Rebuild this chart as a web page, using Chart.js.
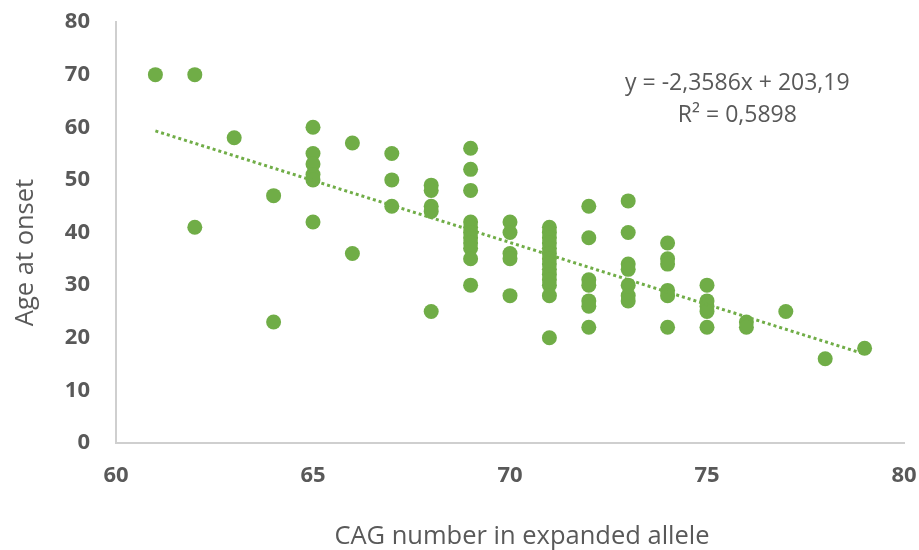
<!DOCTYPE html>
<html>
<head>
<meta charset="utf-8">
<script src="https://cdn.jsdelivr.net/npm/chart.js@4/dist/chart.umd.min.js"></script>
<style>
    html, body { margin: 0; padding: 0; background: #ffffff; }
    #wrap { width: 919px; height: 550px; }
</style>
</head>
<body>
<div id="wrap"><canvas id="cagChart" width="919" height="550"></canvas></div>
<script>
// CAG repeat length (x) and age at onset (y), read column by column
const cagNumbers = [
    61,
    62, 62,
    63,
    64, 64,
    65, 65, 65, 65, 65, 65,
    66, 66,
    67, 67, 67,
    68, 68, 68, 68, 68,
    69, 69, 69, 69, 69, 69, 69, 69, 69, 69, 69,
    70, 70, 70, 70, 70,
    71, 71, 71, 71, 71, 71, 71, 71, 71, 71, 71, 71, 71, 71,
    72, 72, 72, 72, 72, 72, 72,
    73, 73, 73, 73, 73, 73, 73,
    74, 74, 74, 74, 74, 74,
    75, 75, 75, 75, 75,
    76, 76,
    77,
    78,
    79
];
const ageAtOnset = [
    70,
    70, 41,
    58,
    47, 23,
    60, 55, 53, 51, 50, 42,
    57, 36,
    55, 50, 45,
    49, 48, 45, 44, 25,
    56, 52, 48, 42, 41, 40, 39, 38, 37, 35, 30,
    42, 40, 36, 35, 28,
    41, 40, 39, 38, 37, 36, 35, 34, 33, 32, 31, 30, 28, 20,
    45, 39, 31, 30, 27, 26, 22,
    46, 40, 34, 33, 30, 28, 27,
    38, 35, 34, 29, 28, 22,
    30, 27, 26, 25, 22,
    23, 22,
    25,
    16,
    18
];

// linear trendline end points as drawn
const trendX = [61, 79];
const trendY = [59.3, 16.9];
const trendLabel = ['y = -2,3586x + 203,19', 'R\u00B2 = 0,5898'];

const xTicks = [60, 65, 70, 75, 80];
const yTicks = [0, 10, 20, 30, 40, 50, 60, 70, 80];
const xTitle = 'CAG number in expanded allele';
const yTitle = 'Age at onset';

const verde = '#70AD47';
const gris = '#595959';
const fuente = "'Open Sans', 'DejaVu Sans', sans-serif";

// ecuación de la tendencia y títulos de los ejes (Excel los coloca algo descentrados)
const textosPlugin = {
    id: 'textos',
    afterDatasetsDraw(chart) {
        const { ctx, scales, chartArea } = chart;
        const cx = scales.x.getPixelForValue(75.77);
        ctx.save();
        ctx.fillStyle = gris;
        ctx.font = "23px " + fuente;
        ctx.textAlign = 'center';
        ctx.textBaseline = 'middle';
        ctx.fillText(trendLabel[0], cx, scales.y.getPixelForValue(68.4));
        ctx.fillText(trendLabel[1], cx, scales.y.getPixelForValue(62.3));

        ctx.font = "25.5px " + fuente;
        ctx.textBaseline = 'alphabetic';
        ctx.fillText(xTitle, (chartArea.left + chartArea.right) / 2 + 12, chartArea.bottom + 101);

        ctx.translate(33, (chartArea.top + chartArea.bottom) / 2 + 20);
        ctx.rotate(-Math.PI / 2);
        ctx.fillText(yTitle, 0, 0);
        ctx.restore();
    }
};

function inicializarGrafica() {
    const ctx = document.getElementById('cagChart').getContext('2d');
    const puntos = cagNumbers.map((x, i) => ({ x: x, y: ageAtOnset[i] }));
    const tendencia = trendX.map((x, i) => ({ x: x, y: trendY[i] }));

    new Chart(ctx, {
        type: 'scatter',
        data: {
            datasets: [
                {
                    label: 'Age at onset',
                    data: puntos,
                    backgroundColor: verde,
                    borderWidth: 0,
                    pointRadius: 7.5,
                    pointHoverRadius: 7.5,
                    order: 2
                },
                {
                    label: 'Linear trend',
                    type: 'line',
                    data: tendencia,
                    borderColor: verde,
                    borderWidth: 3,
                    borderDash: [3, 3],
                    pointRadius: 0,
                    fill: false,
                    order: 1
                }
            ]
        },
        options: {
            responsive: false,
            animation: false,
            layout: { padding: { left: 0, right: 15, top: 22, bottom: 0 } },
            plugins: {
                legend: { display: false },
                tooltip: { enabled: false }
            },
            scales: {
                x: {
                    type: 'linear',
                    min: 60,
                    max: 80,
                    afterFit(scale) {
                        scale.height = 107;
                        scale.paddingLeft = 0;
                        scale.paddingRight = 0;
                    },
                    afterBuildTicks(scale) { scale.ticks = xTicks.map(v => ({ value: v })); },
                    grid: { display: false, drawTicks: false },
                    border: { display: true, color: '#cfcfcf', width: 2 },
                    ticks: {
                        color: gris,
                        font: { family: fuente, size: 22, weight: 'bold' },
                        padding: 20,
                        maxRotation: 0
                    },
                    title: { display: false }
                },
                y: {
                    type: 'linear',
                    min: 0,
                    max: 80,
                    afterFit(scale) {
                        scale.width = 116;
                        scale.paddingTop = 0;
                        scale.paddingBottom = 0;
                    },
                    afterBuildTicks(scale) { scale.ticks = yTicks.map(v => ({ value: v })); },
                    grid: { display: false, drawTicks: false },
                    border: { display: true, color: '#cfcfcf', width: 2 },
                    ticks: {
                        color: gris,
                        font: { family: fuente, size: 22, weight: 'bold' },
                        padding: 26
                    },
                    title: { display: false }
                }
            }
        },
        plugins: [textosPlugin]
    });
}

document.addEventListener('DOMContentLoaded', () => {
    inicializarGrafica();
});
</script>
</body>
</html>
